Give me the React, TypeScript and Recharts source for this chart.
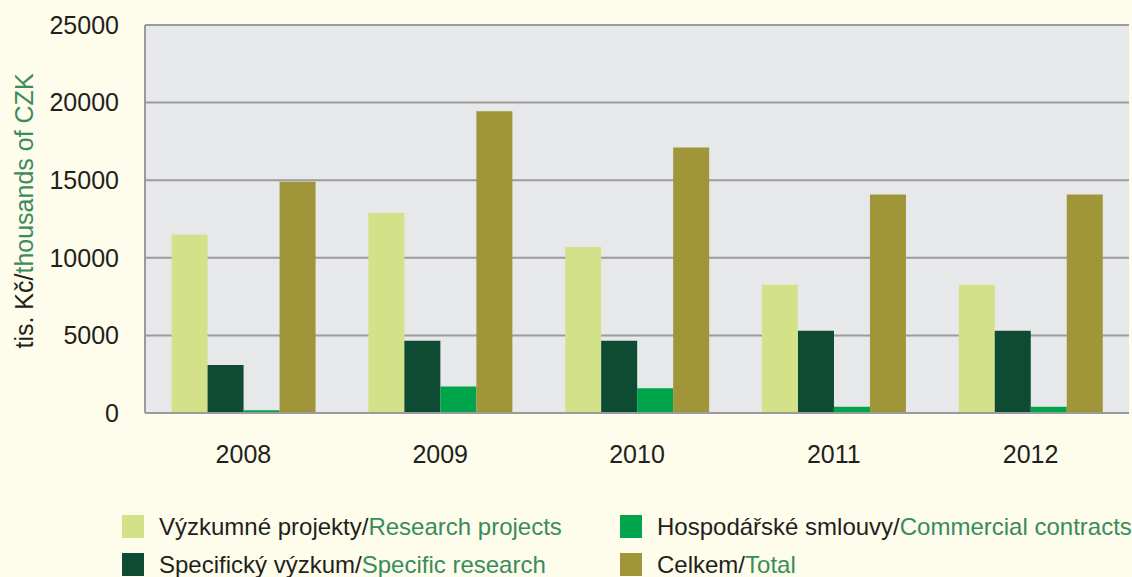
import React from 'react';
import { BarChart, Bar, XAxis, YAxis, CartesianGrid, Legend } from 'recharts';

const years = ['2008', '2009', '2010', '2011', '2012'];
const researchProjects = [11500, 12900, 10700, 8270, 8270];
const specificResearch = [3100, 4650, 4650, 5300, 5300];
const commercialContracts = [180, 1700, 1600, 400, 400];
const total = [14900, 19450, 17100, 14080, 14080];
const yTicks = [0, 5000, 10000, 15000, 20000, 25000];

const data = years.map((year, i) => ({
  year,
  rp: researchProjects[i],
  sr: specificResearch[i],
  cc: commercialContracts[i],
  total: total[i],
}));

const FONT = '"Liberation Sans", Arial, Helvetica, sans-serif';
const DARK = '#231F20';
const GREEN_TEXT = '#3A8B5D';
const BG = '#FEFCEA';

const legendItems = [
  { cz: 'Výzkumné projekty/', en: 'Research projects', color: '#D3E289', left: 122, top: 10 },
  { cz: 'Specifický výzkum/', en: 'Specific research', color: '#0D4B33', left: 122, top: 48 },
  { cz: 'Hospodářské smlouvy/', en: 'Commercial contracts', color: '#00A44B', left: 620, top: 10 },
  { cz: 'Celkem/', en: 'Total', color: '#A1953A', left: 620, top: 48 },
];

const renderLegend = () => (
  <div style={{ position: 'relative', width: 1132, height: 72, fontFamily: FONT }}>
    {legendItems.map((it) => (
      <div key={it.en} style={{ position: 'absolute', left: it.left, top: it.top, height: 23, display: 'flex', alignItems: 'center', whiteSpace: 'nowrap' }}>
        <span style={{ display: 'inline-block', width: 22, height: 23, background: it.color, marginRight: 15 }} />
        <span style={{ fontSize: 24, color: DARK, lineHeight: '23px' }}>
          {it.cz}
          <span style={{ color: GREEN_TEXT }}>{it.en}</span>
        </span>
      </div>
    ))}
  </div>
);

const renderYLabel = () => (
  <text x={33} y={211} transform="rotate(-90, 33, 211)" textAnchor="middle" fontSize={25} fontFamily={FONT} fill={DARK}>
    tis. Kč/<tspan fill={GREEN_TEXT}>thousands of CZK</tspan>
  </text>
);

export default function App() {
  return (
    <div style={{ position: 'absolute', left: 0, top: 0, width: 1132, height: 577, background: BG }}>
      <BarChart
        width={1132}
        height={577}
        data={data}
        margin={{ top: 25, right: 3, left: 0, bottom: 0 }}
        barCategoryGap="13.5%"
        barGap={0}
      >
        <CartesianGrid vertical={false} fill="#E7E8EA" stroke="#9B9B9D" strokeWidth={2} />
        <XAxis
          dataKey="year"
          height={92}
          tickLine={false}
          tickSize={0}
          tickMargin={32}
          axisLine={{ stroke: '#9B9B9D', strokeWidth: 2 }}
          tick={{ fill: DARK, fontSize: 25, fontFamily: FONT }}
        />
        <YAxis
          width={145}
          domain={[0, 25000]}
          ticks={yTicks}
          interval={0}
          tickLine={false}
          tickSize={0}
          tickMargin={26}
          axisLine={{ stroke: '#9B9B9D', strokeWidth: 2 }}
          tick={{ fill: DARK, fontSize: 25, fontFamily: FONT }}
          label={{ value: 'y', content: renderYLabel }}
        />
        <Bar dataKey="rp" fill="#D3E289" isAnimationActive={false} />
        <Bar dataKey="sr" fill="#0D4B33" isAnimationActive={false} />
        <Bar dataKey="cc" fill="#00A44B" isAnimationActive={false} />
        <Bar dataKey="total" fill="#A1953A" isAnimationActive={false} />
        <Legend content={renderLegend} verticalAlign="bottom" wrapperStyle={{ height: 72 }} />
      </BarChart>
    </div>
  );
}
